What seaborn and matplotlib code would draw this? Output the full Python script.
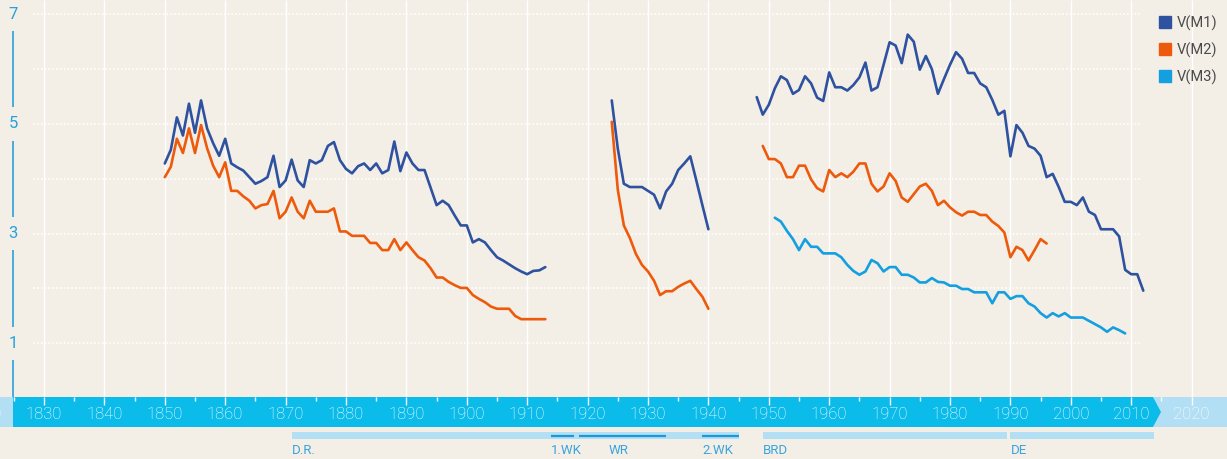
import numpy as np
import pandas as pd
import matplotlib.pyplot as plt
import seaborn as sns
from matplotlib.lines import Line2D

# ================================================= [ data ] ==========================================================
years_a = list(range(1850, 1914))
m1_a = [4.28, 4.53, 5.12, 4.79, 5.37, 4.84, 5.43, 4.92, 4.65, 4.42,
        4.73, 4.28, 4.21, 4.15, 4.03, 3.91, 3.96, 4.03, 4.42, 3.85,
        3.97, 4.35, 3.97, 3.85, 4.34, 4.28, 4.34, 4.60, 4.67, 4.34,
        4.18, 4.10, 4.23, 4.28, 4.16, 4.28, 4.10, 4.16, 4.68, 4.14,
        4.48, 4.28, 4.16, 4.16, 3.84, 3.52, 3.60, 3.52, 3.33, 3.15,
        3.15, 2.84, 2.90, 2.84, 2.70, 2.57, 2.51, 2.44, 2.37, 2.31,
        2.26, 2.32, 2.33, 2.39]
m2_a = [4.03, 4.22, 4.73, 4.47, 4.92, 4.47, 4.98, 4.56, 4.24, 4.03,
        4.30, 3.78, 3.78, 3.68, 3.60, 3.46, 3.52, 3.54, 3.78, 3.28,
        3.40, 3.66, 3.40, 3.28, 3.60, 3.40, 3.40, 3.40, 3.46, 3.04,
        3.04, 2.96, 2.96, 2.96, 2.83, 2.83, 2.70, 2.70, 2.90, 2.70,
        2.84, 2.70, 2.57, 2.51, 2.37, 2.20, 2.20, 2.12, 2.06, 2.01,
        2.01, 1.88, 1.81, 1.75, 1.67, 1.63, 1.63, 1.63, 1.50, 1.44,
        1.44, 1.44, 1.44, 1.44]

years_b = list(range(1924, 1941))
m1_b = [5.43, 4.55, 3.91, 3.85, 3.85, 3.85, 3.78, 3.71, 3.46, 3.77,
        3.91, 4.16, 4.28, 4.41, 3.97, 3.52, 3.08]
m2_b = [5.04, 3.80, 3.15, 2.92, 2.63, 2.43, 2.31, 2.14, 1.88, 1.95,
        1.95, 2.03, 2.09, 2.14, 1.99, 1.85, 1.63]

years_m1_c = list(range(1948, 2013))
m1_c = [5.49, 5.17, 5.35, 5.65, 5.87, 5.80, 5.55, 5.62, 5.87, 5.74,
        5.48, 5.42, 5.94, 5.67, 5.67, 5.61, 5.71, 5.85, 6.12, 5.61,
        5.67, 6.08, 6.49, 6.43, 6.11, 6.63, 6.50, 5.99, 6.24, 6.00,
        5.55, 5.82, 6.08, 6.31, 6.19, 5.93, 5.93, 5.74, 5.67, 5.44,
        5.17, 5.24, 4.41, 4.98, 4.84, 4.60, 4.55, 4.42, 4.03, 4.09,
        3.85, 3.58, 3.58, 3.52, 3.66, 3.40, 3.34, 3.08, 3.08, 3.08,
        2.95, 2.34, 2.26, 2.26, 1.96]
years_m2_c = list(range(1949, 1997))
m2_c = [4.60, 4.36, 4.36, 4.28, 4.03, 4.03, 4.24, 4.24, 3.99, 3.83,
        3.77, 4.16, 4.03, 4.10, 4.03, 4.13, 4.28, 4.28, 3.91, 3.77,
        3.86, 4.10, 3.96, 3.66, 3.58, 3.72, 3.86, 3.91, 3.78, 3.52,
        3.60, 3.48, 3.39, 3.33, 3.40, 3.40, 3.34, 3.34, 3.22, 3.14,
        3.02, 2.57, 2.76, 2.70, 2.51, 2.70, 2.90, 2.82]
years_m3_c = list(range(1951, 2010))
m3_c = [3.29, 3.22, 3.05, 2.90, 2.70, 2.90, 2.76, 2.76, 2.64, 2.64,
        2.64, 2.57, 2.43, 2.32, 2.25, 2.31, 2.52, 2.46, 2.31, 2.39,
        2.39, 2.25, 2.25, 2.20, 2.11, 2.11, 2.19, 2.12, 2.11, 2.05,
        2.05, 1.99, 1.99, 1.93, 1.93, 1.93, 1.73, 1.93, 1.93, 1.81,
        1.86, 1.86, 1.73, 1.67, 1.55, 1.47, 1.55, 1.49, 1.55, 1.47,
        1.47, 1.47, 1.41, 1.35, 1.29, 1.21, 1.29, 1.24, 1.18]

series_names = ["V(M1)", "V(M2)", "V(M3)"]
series_colors = ["#2e52a0", "#ee5a0c", "#139fe0"]

y_labels = [1, 3, 5, 7]
y_grid = [1, 2, 3, 4, 5, 6, 7]
decades = list(range(1820, 2030, 10))
half_decades = list(range(1825, 2020, 10))

era_names = ["D.R.", "1.WK", "WR", "2.WK", "BRD", "DE"]
era_start = [1871, 1914, 1918.5, 1939, 1949, 1990]
era_end = [1945, 1917.7, 1933, 1945, 1989.4, 2013.8]
era_label_x = [1871, 1914, 1923.5, 1939, 1949, 1990]
era_dark = [False, True, True, True, False, False]

# ================================================= [ style ] =========================================================
sns.set_theme(style="white")
plt.rcParams['font.family'] = ['Roboto', 'DejaVu Sans']

BG = "#f3efe7"
AXIS_BLUE = "#27a1db"
BAND_DARK = "#0bbbea"
BAND_LIGHT = "#b3dff5"
W, H = 1227, 459


def year_at(px):
    return 1830 + (px - 44) / 6.04


def val_at(py):
    return 1 + (343.3 - py) / 54.83


parts = []
for name, seg, yrs, vals in [("V(M1)", "a1", years_a, m1_a), ("V(M2)", "a2", years_a, m2_a),
                             ("V(M1)", "b1", years_b, m1_b), ("V(M2)", "b2", years_b, m2_b),
                             ("V(M1)", "c1", years_m1_c, m1_c), ("V(M2)", "c2", years_m2_c, m2_c),
                             ("V(M3)", "c3", years_m3_c, m3_c)]:
    parts.append(pd.DataFrame({"year": yrs, "value": vals, "series": name, "segment": seg}))
df = pd.concat(parts, ignore_index=True)

fig = plt.figure(figsize=(W / 100, H / 100), dpi=100, facecolor=BG)

# ================================================= [ main plot ] =====================================================
ax = fig.add_axes([13 / W, (H - 397) / H, (W - 13) / W, 397 / H])
ax.set_facecolor(BG)
x0, x1 = year_at(13), year_at(W)
y0, y1 = val_at(397), val_at(0)

ax.vlines(decades, y0, y1, colors="white", linewidth=1.0, zorder=1)
ax.hlines(y_grid, year_at(34), year_at(1140), colors="white", linewidth=1.4,
          linestyles=(0, (0.01, 1.95)), capstyle="round", zorder=1)

sns.lineplot(data=df, x="year", y="value", hue="series", units="segment", estimator=None,
             palette=dict(zip(series_names, series_colors)), linewidth=1.9, legend=False, ax=ax, zorder=3)

ax.set_xlim(x0, x1)
ax.set_ylim(y0, y1)
for s in ax.spines.values():
    s.set_visible(False)
ax.set_xticks([])
ax.set_yticks([])
ax.set_xlabel("")
ax.set_ylabel("")

ax.plot([x0 + 0.05, x0 + 0.05], [y0, y1], color=AXIS_BLUE, linewidth=1.2, clip_on=False, zorder=2)
for v in y_labels:
    ax.text(x0 + 0.05, v, str(v), ha="center", va="center", fontsize=12,
            color=AXIS_BLUE, zorder=4,
            bbox=dict(facecolor=BG, edgecolor="none", boxstyle="square,pad=0.55"))

handles = [Line2D([], [], marker="s", color=c, linestyle="none", markersize=9) for c in series_colors]
fig.legend(handles, series_names, loc="upper left", bbox_to_anchor=(1146 / W, 1 - 5 / H), frameon=False,
           fontsize=10.5, labelspacing=0.8, handletextpad=0.2, handlelength=1.2, labelcolor="#4a4a4a",
           borderaxespad=0.3)

# ================================================= [ time band ] =====================================================
bx = fig.add_axes([0, (H - 427) / H, 1, 30 / H])
bx.set_xlim(year_at(0), year_at(W))
bx.set_ylim(0, 1)
bx.axis("off")
bx.axvspan(year_at(0), year_at(W), color=BAND_LIGHT, zorder=0)
bx.fill([year_at(13), year_at(1153), year_at(1161), year_at(1153), year_at(13)],
        [0, 0, 0.5, 1, 1], color=BAND_DARK, zorder=1, linewidth=0)
bx.vlines(decades, 1 - 8 / 30, 1, colors="white", linewidth=1.0, zorder=2)
bx.vlines(half_decades, 1 - 4 / 30, 1, colors="white", linewidth=1.0, zorder=2)
for d in decades:
    bx.text(d, 0.42, str(d), ha="center", va="center", fontsize=12, fontweight="light",
            color="white", zorder=3)

# ================================================= [ eras ] ==========================================================
ex = fig.add_axes([0, 0, 1, 32 / H])
ex.set_xlim(year_at(0), year_at(W))
ex.set_ylim(459, 427)
ex.axis("off")
for name, s, e, lx, dark in zip(era_names, era_start, era_end, era_label_x, era_dark):
    if dark:
        ex.hlines(435.6, s, e, colors="#1a98d8", linewidth=1.6, zorder=2)
    else:
        ex.fill_between([s, e], 431.7, 439.4, color=BAND_LIGHT, linewidth=0, zorder=1)
    ex.text(lx, 451, name, ha="left", va="center", fontsize=9.5, color="#3aa4dc")

fig.savefig("out.png", dpi=100, facecolor=BG)
